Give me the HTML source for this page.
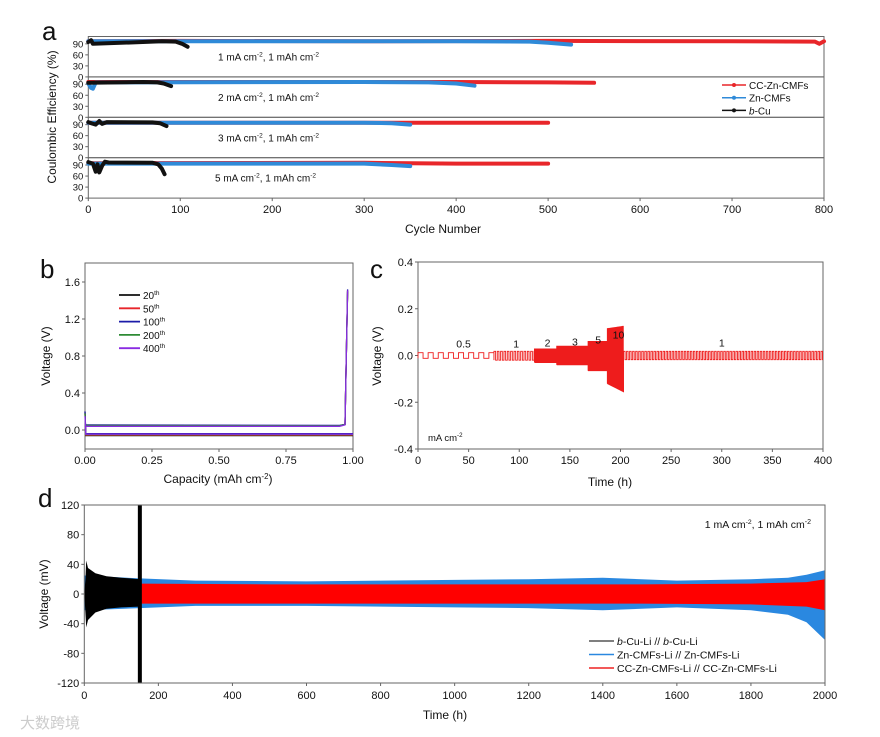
<!DOCTYPE html>
<html><head><meta charset="utf-8"><style>
html,body{margin:0;padding:0;background:#fff;}
svg{display:block;font-family:"Liberation Sans","Noto Sans CJK SC",sans-serif;}
</style></head><body>
<svg id="fig" width="880" height="737" viewBox="0 0 880 737" xmlns="http://www.w3.org/2000/svg">
<rect width="880" height="737" fill="#fff"/>
<g id="pa"></g>
<g id="pb"></g>
<g id="pc"></g>
<g id="pd"></g>
<text x="20" y="728" font-size="15" fill="#ccc">大数跨境</text>
</svg>
<script>
// ---------- Panel a data ----------
const aLabels = ["1 mA cm", "2 mA cm", "3 mA cm", "5 mA cm"];
const aRedCycles = [[0,100,300,500,700,790,795,800],[0,400,500,550],[0,300,400,500],[0,300,400,500]];
const aRedCE = [[97,98,97,98,97,96,90,97],[96,96,95,94],[95,95,95,95],[95,96,94,94]];
const aBlueCycles = [[0,200,400,480,500,525],[0,3,5,8,300,370,400,420],[0,5,300,330,350],[0,10,300,330,350]];
const aBlueCE = [[97,97,97,96,93,88],[92,80,78,95,96,95,92,86],[95,95,95,94,90],[94,94,94,90,87]];
const aBlackCycles = [[0,3,5,80,95,102,108],[0,60,75,82,90],[0,4,8,12,15,20,70,78,85],[0,5,8,10,12,15,18,22,70,76,80,83]];
const aBlackCE = [[95,100,90,97,96,90,82],[94,96,95,92,85],[97,93,90,100,92,97,96,94,86],[98,94,72,92,70,88,99,97,96,92,80,65]];
const aXTicks = [0,100,200,300,400,500,600,700,800];
const aYTicks = [0,30,60,90];
// ---------- Panel b data ----------
const bXTicks = [0,0.25,0.5,0.75,1.0];
const bYTicks = [0,0.4,0.8,1.2,1.6];
const bCycleNames = ["20","50","100","200","400"];
const bChargeCap = [0,0.005,0.95,0.97,0.975,0.98];
const bChargeV = [[0.03,0.05,0.045,0.06,0.8,1.50],[0.03,0.05,0.045,0.06,0.8,1.51],[0.03,0.055,0.05,0.06,0.8,1.52],[0.03,0.05,0.045,0.06,0.8,1.50],[0.025,0.04,0.04,0.055,0.8,1.51]];
const bDisCap = [0,0.003,1.0];
const bDisV = [[0.2,-0.06,-0.06],[0.18,-0.055,-0.055],[0.2,-0.04,-0.04],[0.18,-0.05,-0.05],[0.15,-0.045,-0.045]];
// ---------- Panel c data ----------
const cRates = ["0.5","1","2","3","5","10","1"];
const cStart = [0,75,115,137,168,187,203];
const cEnd = [75,115,137,168,187,203,400];
const cUpStart = [0.012,0.018,0.028,0.04,0.06,0.115,0.018];
const cUpEnd = [0.012,0.018,0.028,0.04,0.06,0.125,0.018];
const cLoStart = [-0.012,-0.02,-0.03,-0.04,-0.065,-0.12,-0.018];
const cLoEnd = [-0.012,-0.02,-0.03,-0.04,-0.065,-0.155,-0.018];
const cPeriod = [10,3.3,1.4,0.9,0.7,0.5,3];
const cXTicks = [0,50,100,150,200,250,300,350,400];
const cYTicks = [-0.4,-0.2,0,0.2,0.4];
// ---------- Panel d data ----------
const dBlackT = [0,3,5,10,30,60,100,150];
const dBlackUp = [0,20,45,35,28,24,22,20];
const dBlackLo = [0,-25,-45,-35,-25,-20,-18,-17];
const dBlueT = [0,150,300,600,1000,1200,1400,1600,1800,1900,1950,2000];
const dBlueUp = [25,21,18,17,19,20,22,18,20,22,26,32];
const dBlueLo = [-22,-19,-16,-16,-18,-19,-22,-18,-22,-28,-38,-62];
const dRedT = [150,500,1000,1500,1800,1950,2000];
const dRedUp = [14,13,13,13,14,16,20];
const dRedLo = [-13,-13,-13,-13,-14,-17,-22];
const dShortT = 150;
const dXTicks = [0,200,400,600,800,1000,1200,1400,1600,1800,2000];
const dYTicks = [-120,-80,-40,0,40,80,120];

const NS="http://www.w3.org/2000/svg";
function mk(parent,tag,attrs,text){const e=document.createElementNS(NS,tag);for(const k in attrs)e.setAttribute(k,attrs[k]);if(text!==undefined)e.textContent=text;parent.appendChild(e);return e;}
function txt(parent,x,y,s,size,anchor,name){const t=mk(parent,'text',{x:x,y:y,'font-size':size,'text-anchor':anchor||'middle',fill:'#111'},s);


return t;}
function sup(parent,x,y,base,sp,rest,size,anchor,name){const t=mk(parent,'text',{x:x,y:y,'font-size':size,'text-anchor':anchor||'middle',fill:'#111'});


mk(t,'tspan',{},base);mk(t,'tspan',{dy:-4,'font-size':size*0.65},sp);mk(t,'tspan',{dy:4},rest);return t;}

// ======== Panel a ========
(function(){
const g=document.getElementById('pa');
const L=88.3,R=824,T=36.5,H=40.4;
const X=v=>L+v*(R-L)/800;
const Y=(i,v)=>T+(i+1)*H-v*H/110;
txt(g,42,40,"a",26,'start','panel-label-a');
for(let i=0;i<4;i++){
  const r=mk(g,'rect',{x:L,y:T+i*H,width:R-L,height:H,fill:'none',stroke:'#666','stroke-width':1});
  
  
  aYTicks.forEach(v=>{mk(g,'line',{x1:L-3,x2:L,y1:Y(i,v),y2:Y(i,v),stroke:'#666'});
    txt(g,L-5,Y(i,v)+3.5,String(v),9.5,'end','y-tick-label');});
  const sets=[[aRedCycles,aRedCE,'#e8262a','series-cc-zn-cmfs'],[aBlueCycles,aBlueCE,'#2f8ad8','series-zn-cmfs'],[aBlackCycles,aBlackCE,'#111','series-b-cu']];
  sets.forEach(s=>{
    const pts=s[0][i].map((c,j)=>X(c).toFixed(1)+','+Y(i,s[1][i][j]).toFixed(1)).join(' ');
    const p=mk(g,'polyline',{points:pts,fill:'none',stroke:s[2],'stroke-width':4,'stroke-linejoin':'round','stroke-linecap':'round'});
    
    
  });
  sup(g,i==3?215:218,T+i*H+24,aLabels[i],"-2",", 1 mAh cm",10,'start','condition-label');
  const last=g.lastChild;mk(last,'tspan',{dy:-4,'font-size':6.5},"-2");
}
aXTicks.forEach(v=>{mk(g,'line',{x1:X(v),x2:X(v),y1:T+4*H,y2:T+4*H+3,stroke:'#666'});
  txt(g,X(v),T+4*H+15,String(v),11,'middle','x-tick-label');});
txt(g,443,233,"Cycle Number",12,'middle','x-axis-title');
const yt=txt(g,0,0,"Coulombic Efficiency (%)",12,'middle','y-axis-title');
yt.setAttribute('transform','translate(56,117) rotate(-90)');
const leg=[["#e8262a","CC-Zn-CMFs"],["#2f8ad8","Zn-CMFs"],["#111","b-Cu"]];
leg.forEach((l,j)=>{const y=85+j*12.7;
  const ln=mk(g,'line',{x1:722,x2:746,y1:y,y2:y,stroke:l[0],'stroke-width':1.5});
  
  
  mk(g,'circle',{cx:734,cy:y,r:2,fill:l[0]});
  if(j==2){const t=txt(g,749,y+4,"",10,'start','legend-entry');mk(t,'tspan',{'font-style':'italic'},"b");mk(t,'tspan',{},"-Cu");}
  else txt(g,749,y+4,l[1],10,'start','legend-entry');
});
})();

// ======== Panel b ========
(function(){
const g=document.getElementById('pb');
const L=85,R=353,T=263,B=449;
const X=v=>L+v*(R-L);
const Y=v=>430-v*92.5;
txt(g,40,278,"b",26,'start','panel-label-b');
const fr=mk(g,'rect',{x:L,y:T,width:R-L,height:B-T,fill:'none',stroke:'#666'});


bXTicks.forEach(v=>{mk(g,'line',{x1:X(v),x2:X(v),y1:B,y2:B+3,stroke:'#666'});
  txt(g,X(v),B+15,v.toFixed(2),11,'middle','x-tick-label');});
bYTicks.forEach(v=>{mk(g,'line',{x1:L-3,x2:L,y1:Y(v),y2:Y(v),stroke:'#666'});
  txt(g,L-5,Y(v)+4,v.toFixed(1),11,'end','y-tick-label');});
const cols=['#111','#e8262a','#1c1ca8','#2e8b35','#8a2be2'];
cols.forEach((c,k)=>{
  const p1=mk(g,'polyline',{points:bChargeCap.map((x,j)=>X(x).toFixed(1)+','+Y(bChargeV[k][j]).toFixed(1)).join(' '),fill:'none',stroke:c,'stroke-width':1.3});
  
  
  const p2=mk(g,'polyline',{points:bDisCap.map((x,j)=>X(x).toFixed(1)+','+Y(bDisV[k][j]).toFixed(1)).join(' '),fill:'none',stroke:c,'stroke-width':1.3});
  
  
});
cols.forEach((c,k)=>{const y=295+k*13.3;
  const ln=mk(g,'line',{x1:119,x2:140,y1:y,y2:y,stroke:c,'stroke-width':1.8});
  
  
  sup(g,143,y+4,bCycleNames[k],"th","",10,'start','legend-entry');});
const xt=sup(g,218,483,"Capacity (mAh cm","-2",")",12,'middle','x-axis-title');
const yt=txt(g,0,0,"Voltage (V)",12,'middle','y-axis-title');
yt.setAttribute('transform','translate(50,356) rotate(-90)');
})();

// ======== Panel c ========
(function(){
const g=document.getElementById('pc');
const L=418,R=823,T=262,B=449;
const X=v=>L+v*(R-L)/400;
const Y=v=>355.5-v*(B-T)/0.8;
txt(g,370,278,"c",26,'start','panel-label-c');
const fr=mk(g,'rect',{x:L,y:T,width:R-L,height:B-T,fill:'none',stroke:'#666'});


cXTicks.forEach(v=>{mk(g,'line',{x1:X(v),x2:X(v),y1:B,y2:B+3,stroke:'#666'});
  txt(g,X(v),B+15,String(v),11,'middle','x-tick-label');});
cYTicks.forEach(v=>{mk(g,'line',{x1:L-3,x2:L,y1:Y(v),y2:Y(v),stroke:'#666'});
  txt(g,L-5,Y(v)+4,v.toFixed(1),11,'end','y-tick-label');});
let d='';
cStart.forEach((s,i)=>{
  const e=cEnd[i],P=cPeriod[i];
  const up=t=>cUpStart[i]+(cUpEnd[i]-cUpStart[i])*(t-s)/(e-s);
  const lo=t=>cLoStart[i]+(cLoEnd[i]-cLoStart[i])*(t-s)/(e-s);
  let t=s;d+=(d?'L':'M')+X(t).toFixed(2)+','+Y(lo(t)).toFixed(2);
  while(t<e-1e-6){
    const m=Math.min(t+P/2,e),n=Math.min(t+P,e);
    d+='L'+X(t).toFixed(2)+','+Y(up(t)).toFixed(2)+'L'+X(m).toFixed(2)+','+Y(up(m)).toFixed(2);
    d+='L'+X(m).toFixed(2)+','+Y(lo(m)).toFixed(2)+'L'+X(n).toFixed(2)+','+Y(lo(n)).toFixed(2);
    t=n;
  }
});
const p=mk(g,'path',{d:d,fill:'none',stroke:'#ee1c1c','stroke-width':0.9});


const lx=[45,97,128,155,178,198,300], ly=[0.013,0.013,0.018,0.022,0.03,0.052,0.017];
cRates.forEach((r,i)=>{txt(g,X(lx[i]),Y(ly[i])-5,r,10.5,'middle','rate-label');});
sup(g,428,441,"mA cm","-2","",9.5,'start','unit-label');
txt(g,610,486,"Time (h)",12,'middle','x-axis-title');
const yt=txt(g,0,0,"Voltage (V)",12,'middle','y-axis-title');
yt.setAttribute('transform','translate(381,356) rotate(-90)');
})();

// ======== Panel d ========
(function(){
const g=document.getElementById('pd');
const L=84.3,R=825,T=505,B=683;
const X=v=>L+v*(R-L)/2000;
const Y=v=>594-v*(B-T)/240;
txt(g,38,507,"d",26,'start','panel-label-d');
function band(ts,up,lo,col,name){
  const pts=ts.map((t,j)=>X(t).toFixed(1)+','+Y(up[j]).toFixed(1)).concat(ts.slice().reverse().map((t,j)=>X(t).toFixed(1)+','+Y(lo[ts.length-1-j]).toFixed(1))).join(' ');
  const p=mk(g,'polygon',{points:pts,fill:col});
  
  
}
band(dBlueT,dBlueUp,dBlueLo,'#2a88e0','band-zn-cmfs');
band(dRedT,dRedUp,dRedLo,'#ff0000','band-cc-zn-cmfs');
band(dBlackT,dBlackUp,dBlackLo,'#000','band-b-cu');
const bar=mk(g,'rect',{x:X(dShortT)-2,y:T,width:4,height:B-T,fill:'#000'});


const fr=mk(g,'rect',{x:L,y:T,width:R-L,height:B-T,fill:'none',stroke:'#666'});


dXTicks.forEach(v=>{mk(g,'line',{x1:X(v),x2:X(v),y1:B,y2:B+3,stroke:'#666'});
  txt(g,X(v),B+16,String(v),11,'middle','x-tick-label');});
dYTicks.forEach(v=>{mk(g,'line',{x1:L-3,x2:L,y1:Y(v),y2:Y(v),stroke:'#666'});
  txt(g,L-5,Y(v)+4,String(v),11,'end','y-tick-label');});
const a=sup(g,811,528,"1 mA cm","-2",",  1 mAh cm",10.5,'end','condition-label');
mk(a,'tspan',{dy:-4,'font-size':7},"-2");
const leg=[['#555',['b','-Cu-Li // ','b','-Cu-Li']],['#2a88e0',['','Zn-CMFs-Li // Zn-CMFs-Li']],['#ee2222',['','CC-Zn-CMFs-Li // CC-Zn-CMFs-Li']]];
leg.forEach((l,j)=>{const y=641+j*13.5;
  const ln=mk(g,'line',{x1:589,x2:614,y1:y,y2:y,stroke:l[0],'stroke-width':1.5});
  
  
  const t=txt(g,617,y+4,"",10.5,'start','legend-entry');
  l[1].forEach((s,k)=>{if(s)mk(t,'tspan',(l[1].length>2&&k%2==0)?{'font-style':'italic'}:{},s);});
});
txt(g,445,719,"Time (h)",12,'middle','x-axis-title');
const yt=txt(g,0,0,"Voltage (mV)",12,'middle','y-axis-title');
yt.setAttribute('transform','translate(48,594) rotate(-90)');
})();
</script>
</body></html>
